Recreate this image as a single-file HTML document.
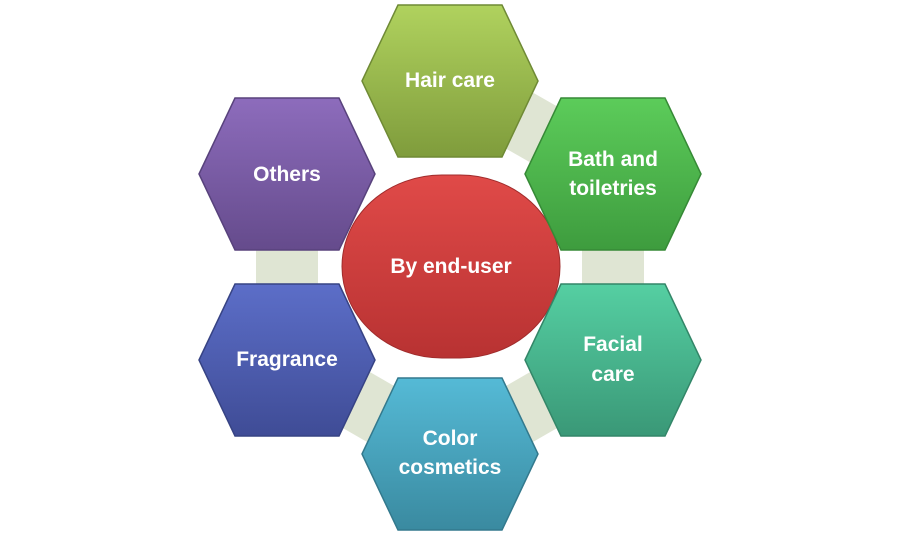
<!DOCTYPE html>
<html><head><meta charset="utf-8"><style>
html,body{margin:0;padding:0;background:#fff;width:900px;height:543px;overflow:hidden}
svg text{font-family:"Liberation Sans",sans-serif;font-weight:bold;font-size:21px;fill:#fff;text-anchor:middle}
</style></head><body>
<svg width="900" height="543" viewBox="0 0 900 543">
<defs>
<linearGradient id="g1" x1="0" y1="0" x2="0" y2="1"><stop offset="0" stop-color="#b0d25e"/><stop offset="1" stop-color="#7f9c3c"/></linearGradient>
<linearGradient id="g2" x1="0" y1="0" x2="0" y2="1"><stop offset="0" stop-color="#5ccc5a"/><stop offset="1" stop-color="#3e9c3e"/></linearGradient>
<linearGradient id="g3" x1="0" y1="0" x2="0" y2="1"><stop offset="0" stop-color="#55cfa2"/><stop offset="1" stop-color="#3a9877"/></linearGradient>
<linearGradient id="g4" x1="0" y1="0" x2="0" y2="1"><stop offset="0" stop-color="#55bad6"/><stop offset="1" stop-color="#3a8aa0"/></linearGradient>
<linearGradient id="g5" x1="0" y1="0" x2="0" y2="1"><stop offset="0" stop-color="#5c6ec8"/><stop offset="1" stop-color="#3f4c96"/></linearGradient>
<linearGradient id="g6" x1="0" y1="0" x2="0" y2="1"><stop offset="0" stop-color="#8d6cbc"/><stop offset="1" stop-color="#654b8c"/></linearGradient>
<linearGradient id="gr" x1="0" y1="0" x2="0" y2="1"><stop offset="0" stop-color="#e04a48"/><stop offset="1" stop-color="#b83232"/></linearGradient>
<polygon id="hx" points="-88,0 -52,-76 52,-76 88,0 52,76 -52,76"/>
</defs>
<g stroke="#dfe5d3" stroke-width="62" fill="none">
<line x1="450" y1="81" x2="613" y2="174"/>
<line x1="613" y1="174" x2="613" y2="360"/>
<line x1="613" y1="360" x2="450" y2="454"/>
<line x1="450" y1="454" x2="287" y2="360"/>
<line x1="287" y1="360" x2="287" y2="174"/>
</g>
<rect x="342" y="175" width="218" height="183" rx="100" ry="92" fill="url(#gr)" stroke="#a02c2c" stroke-width="1"/>
<text x="451" y="273">By end-user</text>
<g stroke-width="1.5">
<use href="#hx" x="450" y="81" fill="url(#g1)" stroke="#6f8a35"/>
<use href="#hx" x="613" y="174" fill="url(#g2)" stroke="#368a36"/>
<use href="#hx" x="613" y="360" fill="url(#g3)" stroke="#338668"/>
<use href="#hx" x="450" y="454" fill="url(#g4)" stroke="#33798d"/>
<use href="#hx" x="287" y="360" fill="url(#g5)" stroke="#374384"/>
<use href="#hx" x="287" y="174" fill="url(#g6)" stroke="#58427c"/>
</g>
<text x="450" y="87">Hair care</text>
<text x="613" y="166">Bath and</text><text x="613" y="195">toiletries</text>
<text x="613" y="351">Facial</text><text x="613" y="381">care</text>
<text x="450" y="445">Color</text><text x="450" y="474">cosmetics</text>
<text x="287" y="366">Fragrance</text>
<text x="287" y="181">Others</text>
</svg>
</body></html>
